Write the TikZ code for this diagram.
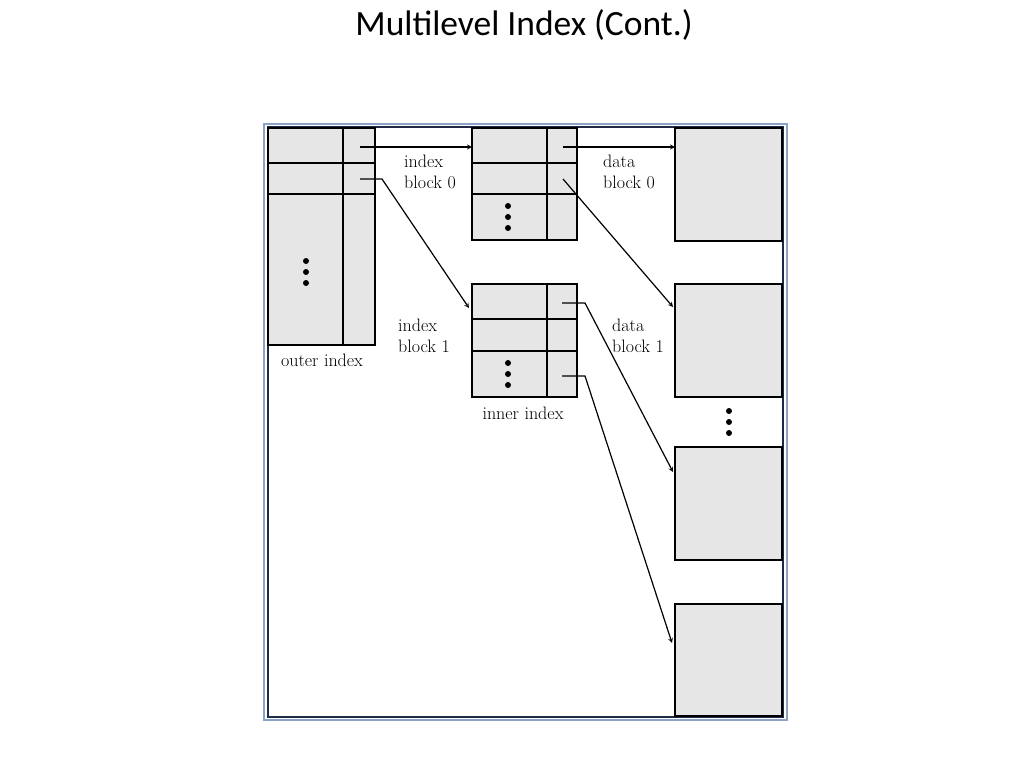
\documentclass[tikz,border=0pt]{standalone}
\usepackage{fontspec}
\newfontfamily\titlefont{Carlito}
\usetikzlibrary{arrows,positioning}
\definecolor{frameblue}{RGB}{140,163,198}
\definecolor{framedark}{RGB}{30,42,70}
\definecolor{cellgray}{RGB}{230,230,230}
\tikzset{
	blk/.style={draw, fill=cellgray, line width=1.4pt, anchor=north west,
		inner sep=0pt, outer sep=0pt},
	grid/.style={line width=1.4pt},
	ptr/.style={line width=1.2pt, -stealth},
	lbl/.style={font=\fontsize{18}{21}\selectfont, align=left, inner sep=0pt},
	title/.style={font=\titlefont\fontsize{35.5}{40}\selectfont, inner sep=0pt, anchor=base}
}

\begin{document}
\begin{tikzpicture}[x=1pt,y=-1pt]
	\useasboundingbox (0,0) rectangle (1024,768);
	\node[title] (T) at (524,36) {Multilevel Index (Cont.)};
	% frame
	\draw[frameblue, line width=1.4pt] (264,124) rectangle (787,720);
	\draw[framedark, line width=2pt] (267.5,127) rectangle (782.5,717);
	% outer index
	\node[blk, minimum width=107pt, minimum height=217pt] (O) at (268,128) {};
	\draw[grid] (343,128) -- (343,345) (268,163) -- (375,163) (268,194) -- (375,194);
	% inner index blocks
	\node[blk, minimum width=105pt, minimum height=112pt] (I0) at (472,128) {};
	\draw[grid] (547,128) -- (547,240) (472,163) -- (577,163) (472,194) -- (577,194);
	\node[blk, minimum width=105pt, minimum height=113pt] (I1) at (472,284) {};
	\draw[grid] (547,284) -- (547,397) (472,319) -- (577,319) (472,351) -- (577,351);
	% data blocks
	\node[blk, minimum width=107pt, minimum height=113pt] (D0) at (675,128) {};
	\node[blk, minimum width=107pt, minimum height=113pt] (D1) at (675,284) {};
	\node[blk, minimum width=107pt, minimum height=113pt] (D2) at (675,447) {};
	\node[blk, minimum width=107pt, minimum height=112pt] (D3) at (675,604) {};
	% dots
	\foreach \x/\y in {306/261, 508/206, 508/363, 729/411}
		\foreach \k in {0,1,2}
			\fill (\x,\y+11*\k) circle (3pt);
	% labels
	\node[lbl, anchor=west] (L0) at (404,172) {index\\block 0};
	\node[lbl, anchor=west] (L1) at (603,172) {data\\block 0};
	\node[lbl, anchor=west] (L2) at (398,336) {index\\block 1};
	\node[lbl, anchor=west] (L3) at (612,336) {data\\block 1};
	\node[lbl] (L4) at (322,360) {outer index};
	\node[lbl] (L5) at (523,413) {inner index};
	% pointers
	\coordinate (o0) at (360,147);
	\coordinate (o1) at (360,179);
	\coordinate (a0) at (563,147);
	\coordinate (a1) at (563,179);
	\coordinate (b0) at (562,303);
	\coordinate (b2) at (562,376);
	\coordinate (t1) at (469,308);
	\coordinate (t2) at (673,307);
	\coordinate (t3) at (673,472);
	\coordinate (t4) at (672,643);
	\draw[ptr] (o0) -- (o0 -| I0.west);
	\draw[ptr] (o1) -- ++(22,0) -- (t1);
	\draw[ptr] (a0) -- (a0 -| D0.west);
	\draw[ptr] (a1) -- (t2);
	\draw[ptr] (b0) -- ++(23,0) -- (t3);
	\draw[ptr] (b2) -- ++(23,0) -- (t4);
\end{tikzpicture}
\end{document}
